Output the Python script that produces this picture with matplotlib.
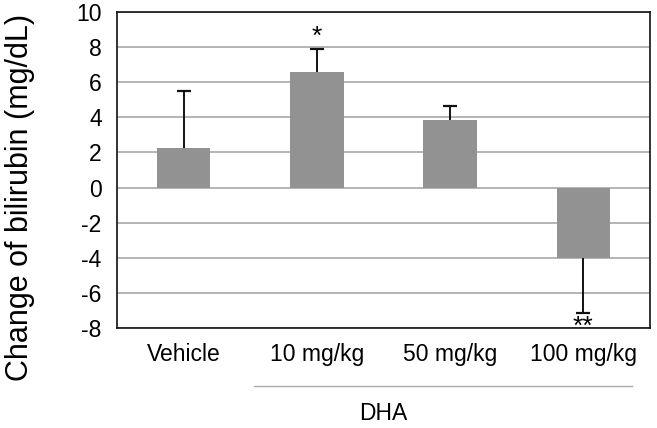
import matplotlib
matplotlib.use("Agg")
import matplotlib.pyplot as plt
from matplotlib.lines import Line2D

plt.rcParams['font.family'] = ['Liberation Sans', 'DejaVu Sans']

categories = ["Vehicle", "10 mg/kg", "50 mg/kg", "100 mg/kg"]
values = [2.27, 6.59, 3.87, -4.02]
errors = [3.23, 1.28, 0.80, 3.10]
stars = ["", "*", "", "**"]
group_label = "DHA"
yticks = [-8, -6, -4, -2, 0, 2, 4, 6, 8, 10]

fig = plt.figure(figsize=(6.57, 4.28), dpi=100)
ax = fig.add_axes([117/657, 1-328/428, 533/657, 316/428])

x = list(range(len(categories)))
ax.bar(x, values, width=0.4, color="#929292", zorder=2)

# one-sided error bars (away from zero)
ends = [v + e if v >= 0 else v - e for v, e in zip(values, errors)]
ax.vlines(x, values, ends, color="#111111", linewidth=1.4, zorder=3)
ax.plot(x, ends, linestyle="none", marker="_", markersize=10,
        markeredgewidth=1.6, color="#111111", zorder=3)

for xi, v, e, s in zip(x, values, errors, stars):
    if not s:
        continue
    if v >= 0:
        ax.text(xi, v + e + 0.05, s, ha="center", va="bottom", fontsize=19)
    else:
        ax.text(xi, v - e - 0.12, s, ha="center", va="top", fontsize=19)

ax.set_xlim(-0.5, len(categories) - 0.5)
ax.set_ylim(-8, 10)
ax.set_yticks(yticks)
ax.set_yticklabels([str(t) for t in yticks], fontsize=16.5)
ax.set_xticks(x)
ax.set_xticklabels(categories, fontsize=16.5)
ax.tick_params(axis="x", length=0, pad=11)
ax.tick_params(axis="y", length=0, pad=11)
ax.yaxis.grid(True, color="#b4b4b4", linewidth=1.4, zorder=0)
ax.set_axisbelow(True)
for sp in ax.spines.values():
    sp.set_color("#111111")
    sp.set_linewidth(1.2)

ax.set_ylabel("Change of bilirubin (mg/dL)", fontsize=22)
ax.yaxis.label.set_va("center")
ax.yaxis.set_label_coords(-0.182, 0.413)

ax.add_line(Line2D([0.257, 0.966], [-0.184, -0.184], transform=ax.transAxes,
                   color="#aaaaaa", linewidth=1.0, clip_on=False))
ax.text(1.5, -0.269, group_label, transform=ax.get_xaxis_transform(),
        ha="center", va="center", fontsize=16.5)

fig.savefig("out.png", dpi=100)
